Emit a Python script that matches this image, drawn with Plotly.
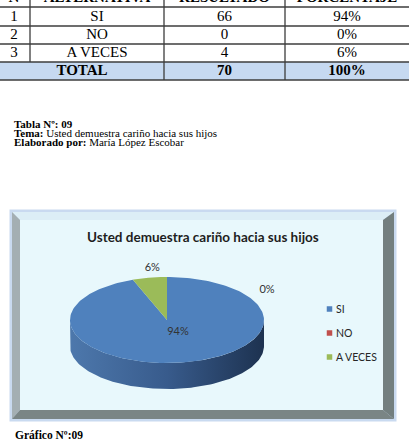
import numpy as np
import plotly.graph_objects as go

# ---------------- data ----------------
categories = ["SI", "NO", "A VECES"]
results = [66, 0, 4]
row_numbers = ["1", "2", "3"]
header = ["N", "ALTERNATIVA", "RESULTADO", "PORCENTAJE"]
total_label = "TOTAL"
chart_title = "Usted demuestra cariño hacia sus hijos"
slice_colors = ["#4F81BD", "#C0504D", "#9BBB59"]

total = sum(results)
percents = [round(v / total * 100) for v in results]
pct_labels = [f"{p}%" for p in percents]

W, H = 409, 444
fig = go.Figure()

# ---------------- table geometry (layout) ----------------
col_edges = [0, 30, 164, 285, 409]
row_lines = [7, 26, 44, 62, 80]
col_centers = [(col_edges[i] + col_edges[i + 1]) / 2 for i in range(4)]
col_centers[0] = 14
row_centers = [(row_lines[i] + row_lines[i + 1]) / 2 + 0.5 for i in range(4)]

shapes = []
line_col = "#3c3c3c"
shapes.append(dict(type="rect", x0=0, x1=W, y0=row_lines[3], y1=row_lines[4],
                   fillcolor="#C6D9F1", line_width=0, layer="below"))
for y in row_lines:
    shapes.append(dict(type="line", x0=0, x1=W, y0=y, y1=y,
                       line=dict(color=line_col, width=1.3), layer="below"))
shapes.append(dict(type="line", x0=col_edges[1], x1=col_edges[1], y0=-20, y1=row_lines[3],
                   line=dict(color=line_col, width=1.3), layer="below"))
for x in col_edges[2:4]:
    shapes.append(dict(type="line", x0=x, x1=x, y0=-20, y1=row_lines[4],
                       line=dict(color=line_col, width=1.3), layer="below"))

serif = "Liberation Serif, Times New Roman, serif"
fig.add_trace(go.Scatter(x=col_centers, y=[-1.5] * 4, mode="text", text=header,
                         textfont=dict(family=serif, size=15, color="#000"),
                         texttemplate="<b>%{text}</b>", showlegend=False,
                         hoverinfo="skip", cliponaxis=True))
tx, ty, tt = [], [], []
for i, cat in enumerate(categories):
    for j, val in enumerate([row_numbers[i], cat, str(results[i]), pct_labels[i]]):
        tx.append(col_centers[j])
        ty.append(row_centers[i])
        tt.append(val)
fig.add_trace(go.Scatter(x=tx, y=ty, mode="text", text=tt,
                         textfont=dict(family=serif, size=15, color="#000"),
                         showlegend=False, hoverinfo="skip"))
fig.add_trace(go.Scatter(x=[(col_edges[0] + col_edges[2]) / 2, col_centers[2], col_centers[3]],
                         y=[row_centers[3]] * 3, mode="text",
                         text=[total_label, str(total), f"{sum(percents)}%"],
                         texttemplate="<b>%{text}</b>",
                         textfont=dict(family=serif, size=15, color="#000"),
                         showlegend=False, hoverinfo="skip"))

annotations = []
caption_lines = [
    "<b>Tabla Nº: 09</b>",
    f"<b>Tema:</b> {chart_title}",
    "<b>Elaborado por:</b> María López Escobar",
]
for k, line in enumerate(caption_lines):
    annotations.append(dict(x=13, y=123.5 + 9.3 * k, xref="x", yref="y", text=line,
                            showarrow=False, xanchor="left", yanchor="middle", borderpad=0,
                            font=dict(family=serif, size=11, color="#000")))
annotations.append(dict(x=13, y=435, xref="x", yref="y", text="<b>Gráfico Nº:09</b>",
                        showarrow=False, xanchor="left", yanchor="middle",
                        font=dict(family=serif, size=11.5, color="#000")))

# ---------------- chart frame (bevel) ----------------
def poly(pts, color):
    path = "M " + " L ".join(f"{x},{y}" for x, y in pts) + " Z"
    return dict(type="path", path=path, fillcolor=color, line_width=0, layer="below")

shapes.append(dict(type="rect", x0=9.5, x1=396.5, y0=209.5, y1=421.5,
                   fillcolor="#C9DAF0", line_width=0, layer="below"))
ox0, oy0, ox1, oy1 = 12, 212, 394, 419
ix0, iy0, ix1, iy1 = 20, 220, 383, 410
shapes.append(poly([(ox0, oy0), (ox1, oy0), (ix1, iy0), (ix0, iy0)], "#DCEEF6"))
shapes.append(poly([(ox0, oy0), (ix0, iy0), (ix0, iy1), (ox0, oy1)], "#A4AFB3"))
shapes.append(poly([(ox1, oy0), (ox1, oy1), (ix1, iy1), (ix1, iy0)], "#737F7F"))
shapes.append(poly([(ox0, oy1), (ix0, iy1), (ix1, iy1), (ox1, oy1)], "#7A8585"))
shapes.append(dict(type="rect", x0=ix0, x1=ix1, y0=iy0, y1=iy1,
                   fillcolor="#E8F8FC", line_width=0, layer="below"))

annotations.append(dict(x=203, y=237, xref="x", yref="y", text=f"<b>{chart_title}</b>",
                        showarrow=False, font=dict(family="Lato, sans-serif", size=13.5,
                                                   color="#1e1e1e")))

# ---------------- 3D-look pie ----------------
cx, cy, rx, ry, depth = 167, 320, 97, 43, 26


def ell(phi, dy=0.0):
    return cx + rx * np.sin(phi), cy - ry * np.cos(phi) + dy


fracs = np.array(results) / total
starts = np.concatenate([[0], np.cumsum(fracs)[:-1]]) * 2 * np.pi
ends = np.cumsum(fracs) * 2 * np.pi

side_colors = [
    [[0, "#4D78AC"], [0.5, "#385B8C"], [1, "#1D3250"]],
    [[0, "#9A403E"], [1, "#5E2524"]],
    [[0, "#7D984A"], [1, "#4F6230"]],
]
for i in range(len(categories)):
    a0 = max(starts[i], np.pi / 2)
    a1 = min(ends[i], 3 * np.pi / 2)
    if a1 <= a0:
        continue
    ph = np.linspace(a0, a1, 120)
    xt, yt = ell(ph)
    xb, yb = ell(ph[::-1], depth)
    fig.add_trace(go.Scatter(x=np.concatenate([xt, xb]), y=np.concatenate([yt, yb]),
                             fill="toself", mode="lines", line=dict(width=0),
                             fillgradient=dict(type="horizontal", colorscale=side_colors[i]),
                             showlegend=False, hoverinfo="skip"))
for i in range(len(categories)):
    if ends[i] - starts[i] <= 0:
        continue
    ph = np.linspace(starts[i], ends[i], 200)
    xe, ye = ell(ph)
    fig.add_trace(go.Scatter(x=np.concatenate([[cx], xe, [cx]]),
                             y=np.concatenate([[cy], ye, [cy]]),
                             fill="toself", fillcolor=slice_colors[i], mode="lines",
                             line=dict(width=0), showlegend=False, hoverinfo="skip"))

label_font = dict(family="Lato, sans-serif", size=11, color="#333333")
mid = (starts + ends) / 2
lab_pos = []
for i in range(len(categories)):
    if i == 0:
        lx, ly = cx + 11, cy + 12
    elif fracs[i] == 0:
        lx, ly = 267, 290
    else:
        lx, ly = ell(mid[i])
        lx, ly = cx + (lx - cx) * 1.25 + 7, cy + (ly - cy) * 1.22
    lab_pos.append((lx, ly))
fig.add_trace(go.Scatter(x=[p[0] for p in lab_pos], y=[p[1] for p in lab_pos],
                         mode="text", text=pct_labels, textfont=label_font,
                         showlegend=False, hoverinfo="skip"))

leg_y = [309 + 24 * i for i in range(len(categories))]
fig.add_trace(go.Scatter(x=[329.5] * len(categories), y=leg_y, mode="markers",
                         marker=dict(symbol="square", size=5.5, color=slice_colors),
                         showlegend=False, hoverinfo="skip"))
for i, cat in enumerate(categories):
    annotations.append(dict(x=334, y=leg_y[i], xref="x", yref="y", text=cat,
                            showarrow=False, xanchor="left", yanchor="middle",
                            font=dict(family="Lato, sans-serif", size=10.5, color="#262626")))

fig.update_layout(
    width=W, height=H, margin=dict(l=0, r=0, t=0, b=0),
    paper_bgcolor="white", plot_bgcolor="white",
    xaxis=dict(range=[0, W], visible=False, fixedrange=True),
    yaxis=dict(range=[H, 0], visible=False, fixedrange=True),
    shapes=shapes, annotations=annotations, showlegend=False,
)
fig.write_html("out.html")
